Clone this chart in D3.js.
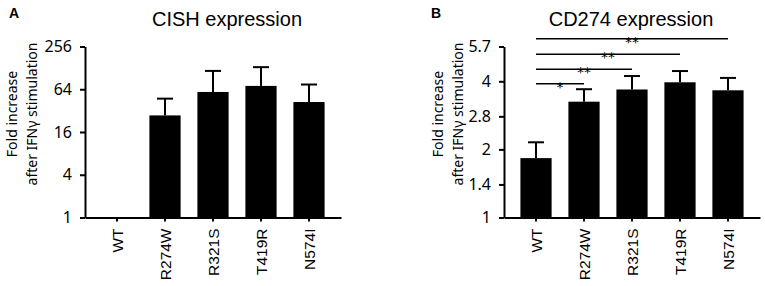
<!DOCTYPE html>
<html>
<head>
<meta charset="utf-8">
<script src="https://cdn.jsdelivr.net/npm/d3@7"></script>
<style>
body { margin: 0; background: #fff; }
</style>
</head>
<body>
<div id="chart"></div>
<script>
var genotypes = ["WT", "R274W", "R321S", "T419R", "N574I"];

// panel A - CISH expression (fold, log2 axis)
var cishMean = [1, 27.4, 58.6, 71.3, 42.3];
var cishUpper = [1, 47.2, 116, 131, 74.6];
var cishTicks = [1, 4, 16, 64, 256];

// panel B - CD274 expression
var cd274Mean = [1.83, 3.25, 3.68, 3.96, 3.65];
var cd274Upper = [2.15, 3.69, 4.22, 4.44, 4.14];
var cd274Ticks = [1, 1.4, 2, 2.8, 4, 5.7];

// significance brackets vs WT (panel B)
var sigTargets = ["R274W", "R321S", "T419R", "N574I"];
var sigLabels = ["*", "**", "**", "**"];
var sigLevels = [3.9, 4.52, 5.27, 6.17];

function init() {
    var w = 765;
    var h = 286;

    var svg = d3.select("#chart")
                .append("svg")
                .attr("width", w)
                .attr("height", h)
                .style("background", "#fff");

    function drawPanel(cfg) {
        var g = svg.append("g");

        var y = d3.scaleLog()
                  .base(2)
                  .domain(cfg.domain)
                  .range([217.5, 46.5]);

        var x = d3.scaleBand()
                  .domain(genotypes)
                  .range([cfg.x0, cfg.x0 + 256])
                  .paddingInner(0.35)
                  .paddingOuter(0.342);

        // bars
        g.selectAll("rect.bar")
         .data(genotypes)
         .enter()
         .append("rect")
         .attr("class", "bar")
         .attr("x", function(d) { return x(d); })
         .attr("width", x.bandwidth())
         .attr("y", function(d, i) { return y(cfg.mean[i]); })
         .attr("height", function(d, i) { return y(1) - y(cfg.mean[i]); })
         .attr("fill", "#000");

        // error bars (upper only)
        var errs = genotypes.filter(function(d, i) { return cfg.upper[i] > cfg.mean[i]; });
        g.selectAll("line.err")
         .data(errs)
         .enter()
         .append("line")
         .attr("class", "err")
         .attr("x1", function(d) { return x(d) + x.bandwidth() / 2; })
         .attr("x2", function(d) { return x(d) + x.bandwidth() / 2; })
         .attr("y1", function(d) { return y(cfg.mean[genotypes.indexOf(d)]); })
         .attr("y2", function(d) { return y(cfg.upper[genotypes.indexOf(d)]); })
         .attr("stroke", "#000")
         .attr("stroke-width", 2);
        g.selectAll("line.cap")
         .data(errs)
         .enter()
         .append("line")
         .attr("class", "cap")
         .attr("x1", function(d) { return x(d) + x.bandwidth() / 2 - 8; })
         .attr("x2", function(d) { return x(d) + x.bandwidth() / 2 + 8; })
         .attr("y1", function(d) { return y(cfg.upper[genotypes.indexOf(d)]); })
         .attr("y2", function(d) { return y(cfg.upper[genotypes.indexOf(d)]); })
         .attr("stroke", "#000")
         .attr("stroke-width", 2);

        // y axis
        var yAxis = g.append("g")
                     .attr("transform", "translate(" + cfg.x0 + ",0)")
                     .call(d3.axisLeft(y)
                             .tickValues(cfg.ticks)
                             .tickFormat(function(d) { return String(d); })
                             .tickSize(5)
                             .tickSizeOuter(0)
                             .tickPadding(8));
        yAxis.select(".domain").attr("stroke-width", 2);
        yAxis.selectAll(".tick line").attr("stroke-width", 2);
        yAxis.selectAll("text")
             .style("font-family", "'Noto Sans', sans-serif")
             .style("font-size", "16px")
             .attr("fill", "#000");

        // x axis
        var xAxis = g.append("g")
                     .attr("transform", "translate(0," + y(1) + ")")
                     .call(d3.axisBottom(x).tickSize(4).tickSizeOuter(0));
        xAxis.select(".domain").attr("stroke-width", 2);
        xAxis.selectAll(".tick line").attr("stroke-width", 2);
        xAxis.selectAll("text")
             .attr("transform", "rotate(-90)")
             .attr("x", -11)
             .attr("y", 1)
             .attr("dy", "0.35em")
             .style("text-anchor", "end")
             .style("font-family", "'Liberation Sans', Arial, sans-serif")
             .style("font-size", "15.5px")
             .attr("fill", "#000");

        // y label
        var lab = g.append("text")
                   .attr("transform", "translate(" + cfg.labelX + ",114) rotate(-90)")
                   .attr("text-anchor", "middle")
                   .style("font-family", "'Noto Sans', sans-serif")
                   .style("font-size", "14px")
                   .attr("fill", "#000");
        lab.append("tspan").attr("x", 0).attr("dy", 0).text("Fold increase");
        lab.append("tspan").attr("x", 0).attr("dy", 19.5).text("after IFNγ stimulation");

        // title
        g.append("text")
         .attr("x", cfg.titleX)
         .attr("y", 26)
         .attr("text-anchor", "middle")
         .style("font-family", "'Liberation Sans', Arial, sans-serif")
         .style("font-size", "20px")
         .text(cfg.title);

        // panel letter
        g.append("text")
         .attr("x", cfg.letterX)
         .attr("y", 18)
         .style("font-family", "'Liberation Sans', Arial, sans-serif")
         .style("font-size", "14px")
         .style("font-weight", "bold")
         .text(cfg.letter);

        return { x: x, y: y, g: g };
    }

    drawPanel({
        x0: 85,
        domain: [1, 256],
        mean: cishMean,
        upper: cishUpper,
        ticks: cishTicks,
        labelX: 17,
        title: "CISH expression",
        titleX: 227,
        letter: "A",
        letterX: 9
    });

    var b = drawPanel({
        x0: 504,
        domain: [1, 5.7],
        mean: cd274Mean,
        upper: cd274Upper,
        ticks: cd274Ticks,
        labelX: 443,
        title: "CD274 expression",
        titleX: 631,
        letter: "B",
        letterX: 431
    });

    // significance lines
    var cx = function(d) { return b.x(d) + b.x.bandwidth() / 2; };
    sigTargets.forEach(function(t, i) {
        var ly = b.y(sigLevels[i]);
        b.g.append("line")
           .attr("x1", cx("WT"))
           .attr("x2", cx(t))
           .attr("y1", ly)
           .attr("y2", ly)
           .attr("stroke", "#000")
           .attr("stroke-width", 1.5);
        b.g.append("text")
           .attr("x", (cx("WT") + cx(t)) / 2)
           .attr("y", ly + 8)
           .attr("text-anchor", "middle")
           .attr("fill", "#000")
           .style("font-family", "'DejaVu Sans', sans-serif")
           .style("font-size", "14px")
           .text(sigLabels[i]);
    });
}
window.onload = init;
</script>
</body>
</html>
